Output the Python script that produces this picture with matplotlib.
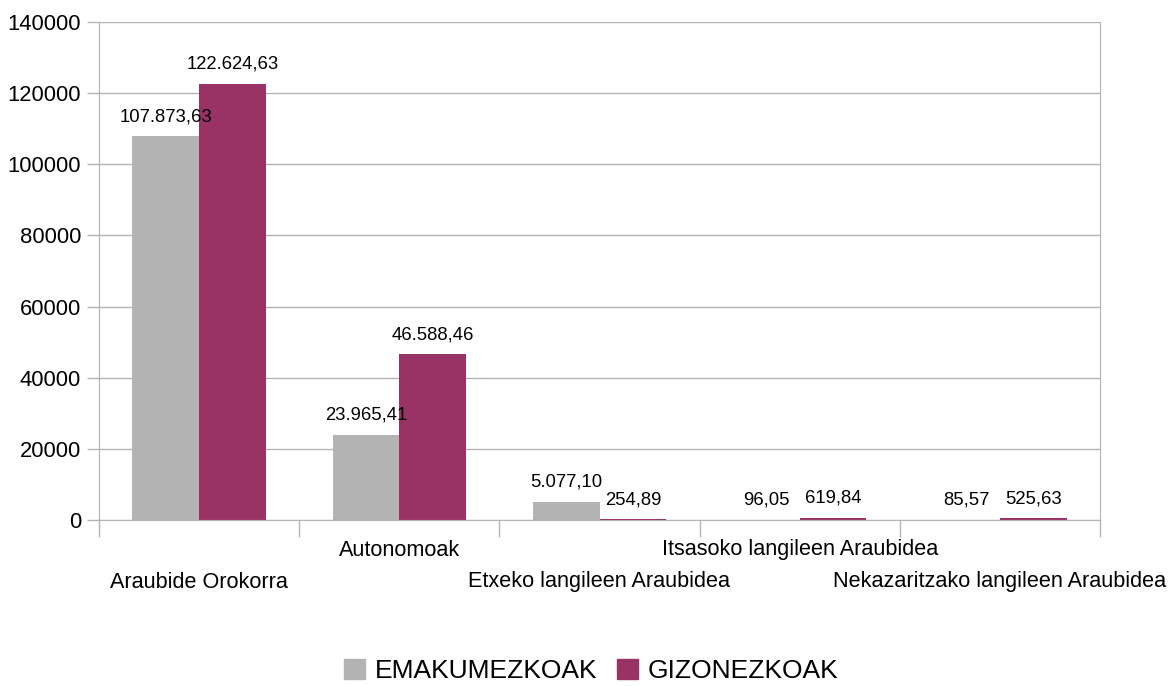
import matplotlib
matplotlib.use("Agg")
import matplotlib.pyplot as plt
import numpy as np
from matplotlib.patches import Patch

plt.rcParams['font.family'] = ['Liberation Sans', 'DejaVu Sans']

categories = ["Araubide Orokorra", "Autonomoak", "Etxeko langileen Araubidea",
              "Itsasoko langileen Araubidea", "Nekazaritzako langileen Araubidea"]
emakumezkoak = [107873.63, 23965.41, 5077.10, 96.05, 85.57]
gizonezkoak = [122624.63, 46588.46, 254.89, 619.84, 525.63]
series_names = ["EMAKUMEZKOAK", "GIZONEZKOAK"]
yticks = [0, 20000, 40000, 60000, 80000, 100000, 120000, 140000]

gray = "#b3b3b3"
maroon = "#993366"
grid_c = "#b3b3b3"

def fmt(v):
    s = f"{v:,.2f}"
    return s.replace(",", "X").replace(".", ",").replace("X", ".")

fig = plt.figure(figsize=(11.68, 6.86), dpi=100)
ax = fig.add_axes([99/1168, 1 - 520/686, (1100-99)/1168, (520-22)/686])

x = np.arange(len(categories))
w = 1/3
b1 = ax.bar(x - w/2, emakumezkoak, width=w, color=gray, zorder=2)
b2 = ax.bar(x + w/2, gizonezkoak, width=w, color=maroon, zorder=2)

for bars, vals in ((b1, emakumezkoak), (b2, gizonezkoak)):
    for r, v in zip(bars, vals):
        ax.annotate(fmt(v), (r.get_x() + r.get_width()/2, v), xytext=(0, 14),
                    textcoords="offset points", ha="center", va="center",
                    fontsize=13.3, color="black")

ax.set_xlim(-0.5, len(categories) - 0.5)
ax.set_ylim(0, 140000)
ax.set_yticks(yticks)
ax.set_yticklabels([str(t) for t in yticks], fontsize=15.8)
ax.yaxis.grid(True, color=grid_c, linewidth=1, zorder=0)
ax.set_axisbelow(True)

ax.set_xticks(np.arange(len(categories) + 1) - 0.5)
ax.set_xticklabels([])
ax.tick_params(axis="x", length=12, color=grid_c, width=1)
ax.tick_params(axis="y", length=9, color=grid_c, width=1, pad=4)

for i, c in enumerate(categories):
    off = -30 if i % 2 == 1 else -62
    ax.annotate(c, (i, 0), xycoords=("data", "axes fraction"), xytext=(0, off),
                textcoords="offset pixels", ha="center", va="center", fontsize=15.6)

ax.spines["top"].set_visible(False)
ax.spines["right"].set_color(grid_c)
ax.spines["left"].set_color(grid_c)
ax.spines["bottom"].set_color(grid_c)

handles = [Patch(color=gray), Patch(color=maroon)]
fig.legend(handles, series_names, loc="center", bbox_to_anchor=(0.506, 1 - 671/686),
           ncol=2, frameon=False, fontsize=19, handlelength=0.8, handleheight=0.8,
           handletextpad=0.35, columnspacing=0.75)

fig.savefig("out.png", dpi=100)
